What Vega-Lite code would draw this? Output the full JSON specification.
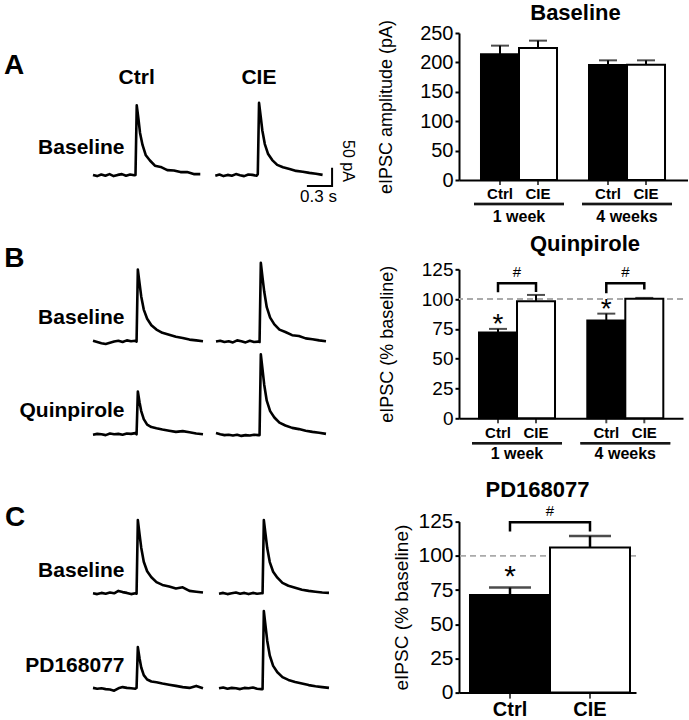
{
"$schema":"https://vega.github.io/schema/vega-lite/v6.json",
"padding":{"left":3,"top":2,"right":0,"bottom":0},
"background":"white",
"columns":2,
"align":"none",
"bounds":"flush",
"spacing":{"row":79.3,"column":100},
"resolve":{"scale":{"x":"independent","y":"independent","xOffset":"independent","yOffset":"independent","fill":"independent"}},
"config":{"font":"Liberation Sans","view":{"stroke":null},
 "axis":{"grid":false,"labelColor":"black","titleColor":"black","domainColor":"black","tickColor":"black","labelFont":"Liberation Sans","titleFont":"Liberation Sans","titleFontWeight":"normal"},
 "title":{"font":"Liberation Sans","color":"black","fontWeight":"bold"},
 "text":{"font":"Liberation Sans","color":"black"}},
"concat":[
{
 "width":265.3,"height":156.4,
 "data":{"values":[
{"c":"Ctrl","r":"Baseline","t":0,"i":1},{"c":"Ctrl","r":"Baseline","t":0.05,"i":-2},{"c":"Ctrl","r":"Baseline","t":0.1,"i":2},{"c":"Ctrl","r":"Baseline","t":0.15,"i":-1},{"c":"Ctrl","r":"Baseline","t":0.2,"i":3},{"c":"Ctrl","r":"Baseline","t":0.25,"i":-2},{"c":"Ctrl","r":"Baseline","t":0.3,"i":1},{"c":"Ctrl","r":"Baseline","t":0.35,"i":3},{"c":"Ctrl","r":"Baseline","t":0.4,"i":-1},{"c":"Ctrl","r":"Baseline","t":0.45,"i":2},{"c":"Ctrl","r":"Baseline","t":0.5,"i":0},{"c":"Ctrl","r":"Baseline","t":0.515,"i":1},{"c":"Ctrl","r":"Baseline","t":0.53,"i":175},{"c":"Ctrl","r":"Baseline","t":0.55,"i":142},{"c":"Ctrl","r":"Baseline","t":0.57,"i":106},{"c":"Ctrl","r":"Baseline","t":0.6,"i":76},{"c":"Ctrl","r":"Baseline","t":0.64,"i":50},{"c":"Ctrl","r":"Baseline","t":0.69,"i":37},{"c":"Ctrl","r":"Baseline","t":0.75,"i":24},{"c":"Ctrl","r":"Baseline","t":0.82,"i":21},{"c":"Ctrl","r":"Baseline","t":0.9,"i":13},{"c":"Ctrl","r":"Baseline","t":0.98,"i":12},{"c":"Ctrl","r":"Baseline","t":1.06,"i":8},{"c":"Ctrl","r":"Baseline","t":1.14,"i":8},{"c":"Ctrl","r":"Baseline","t":1.22,"i":3},{"c":"Ctrl","r":"Baseline","t":1.3,"i":3},
{"c":"CIE","r":"Baseline","t":0,"i":-1},{"c":"CIE","r":"Baseline","t":0.05,"i":2},{"c":"CIE","r":"Baseline","t":0.1,"i":-2},{"c":"CIE","r":"Baseline","t":0.15,"i":1},{"c":"CIE","r":"Baseline","t":0.2,"i":-1},{"c":"CIE","r":"Baseline","t":0.25,"i":3},{"c":"CIE","r":"Baseline","t":0.3,"i":0},{"c":"CIE","r":"Baseline","t":0.35,"i":-2},{"c":"CIE","r":"Baseline","t":0.4,"i":2},{"c":"CIE","r":"Baseline","t":0.45,"i":1},{"c":"CIE","r":"Baseline","t":0.5,"i":-1},{"c":"CIE","r":"Baseline","t":0.515,"i":3},{"c":"CIE","r":"Baseline","t":0.53,"i":181},{"c":"CIE","r":"Baseline","t":0.55,"i":147},{"c":"CIE","r":"Baseline","t":0.57,"i":112},{"c":"CIE","r":"Baseline","t":0.6,"i":78},{"c":"CIE","r":"Baseline","t":0.64,"i":53},{"c":"CIE","r":"Baseline","t":0.69,"i":38},{"c":"CIE","r":"Baseline","t":0.75,"i":26},{"c":"CIE","r":"Baseline","t":0.82,"i":20},{"c":"CIE","r":"Baseline","t":0.9,"i":16},{"c":"CIE","r":"Baseline","t":0.98,"i":11},{"c":"CIE","r":"Baseline","t":1.06,"i":9},{"c":"CIE","r":"Baseline","t":1.14,"i":6},{"c":"CIE","r":"Baseline","t":1.22,"i":4},{"c":"CIE","r":"Baseline","t":1.3,"i":1}
 ]},
 "layer":[
  {"mark":{"type":"line","color":"black","strokeWidth":2.6,"strokeJoin":"round"},
   "encoding":{
    "x":{"field":"c","type":"nominal","scale":{"domain":["Ctrl","CIE"],"paddingInner":0.1227,"paddingOuter":0.146,"align":0},"axis":{"orient":"top","title":null,"domain":false,"ticks":false,"tickSize":0,"labelAngle":0,"labelFontSize":21,"labelFontWeight":"bold","labelPadding":-50.3,"labelBaseline":"alphabetic","labelOffset":-10}},
    "xOffset":{"field":"t","type":"quantitative","scale":{"domain":[0,1.3],"nice":false,"zero":false}},
    "y":{"field":"r","type":"nominal","scale":{"domain":["Baseline"],"paddingInner":0,"paddingOuter":0},"axis":{"title":"A","titleAngle":0,"titleX":-89.5,"titleY":18,"titleAlign":"left","titleBaseline":"top","titleFontSize":28,"titleFontWeight":"bold","domain":false,"ticks":false,"tickSize":0,"labelFontSize":21,"labelFontWeight":"bold","labelPadding":-31,"labelOffset":37}},
    "yOffset":{"field":"i","type":"quantitative","scale":{"domain":[-35.25,355.75],"reverse":true,"nice":false,"zero":false}},
    "detail":[{"field":"c"},{"field":"r"}],
    "order":{"field":"t","type":"quantitative"}}},
  {"data":{"values":[{"c":"CIE","r":"Baseline","t":1.11,"i":-27,"k":0},{"c":"CIE","r":"Baseline","t":1.415,"i":-27,"k":1},{"c":"CIE","r":"Baseline","t":1.415,"i":19,"k":2}]},
   "mark":{"type":"line","color":"black","strokeWidth":2},
   "encoding":{
    "x":{"field":"c","type":"nominal","scale":{"domain":["Ctrl","CIE"],"paddingInner":0.1227,"paddingOuter":0.146,"align":0}},
    "xOffset":{"field":"t","type":"quantitative","scale":{"domain":[0,1.3],"nice":false,"zero":false}},
    "y":{"field":"r","type":"nominal","scale":{"domain":["Baseline"],"paddingInner":0,"paddingOuter":0}},
    "yOffset":{"field":"i","type":"quantitative","scale":{"domain":[-35.25,355.75],"reverse":true,"nice":false,"zero":false}},
    "order":{"field":"k","type":"quantitative"}}},
  {"data":{"values":[{"label":"0.3 s"}]},
   "mark":{"type":"text","fontSize":17,"align":"center","baseline":"middle"},
   "encoding":{
    "x":{"datum":"CIE","type":"nominal","scale":{"domain":["Ctrl","CIE"],"paddingInner":0.1227,"paddingOuter":0.146,"align":0}},
    "xOffset":{"datum":1.25,"type":"quantitative","scale":{"domain":[0,1.3],"nice":false,"zero":false}},
    "y":{"datum":"Baseline","type":"nominal","scale":{"domain":["Baseline"],"paddingInner":0,"paddingOuter":0}},
    "yOffset":{"datum":-54,"type":"quantitative","scale":{"domain":[-35.25,355.75],"reverse":true,"nice":false,"zero":false}},
    "text":{"field":"label"}}},
  {"data":{"values":[{"label":"50 pA"}]},
   "mark":{"type":"text","fontSize":16,"align":"center","baseline":"middle","angle":90},
   "encoding":{
    "x":{"datum":"CIE","type":"nominal","scale":{"domain":["Ctrl","CIE"],"paddingInner":0.1227,"paddingOuter":0.146,"align":0}},
    "xOffset":{"datum":1.606,"type":"quantitative","scale":{"domain":[0,1.3],"nice":false,"zero":false}},
    "y":{"datum":"Baseline","type":"nominal","scale":{"domain":["Baseline"],"paddingInner":0,"paddingOuter":0}},
    "yOffset":{"datum":36,"type":"quantitative","scale":{"domain":[-35.25,355.75],"reverse":true,"nice":false,"zero":false}},
    "text":{"field":"label"}}}
 ]
},
{
 "width":229,"height":147,
 "title":{"text":"Baseline","fontSize":22,"fontWeight":"bold","frame":"group","dx":2,"offset":-6},
 "data":{"values":[
  {"week":"1 week","group":"Ctrl","mean":214,"hi":228.5},
  {"week":"1 week","group":"CIE","mean":224.5,"hi":237},
  {"week":"4 weeks","group":"Ctrl","mean":195.5,"hi":203.5},
  {"week":"4 weeks","group":"CIE","mean":196,"hi":203.5}]},
 "layer":[
  {"mark":{"type":"tick","orient":"vertical","size":10,"thickness":2,"color":"black"},
   "encoding":{"x":{"field":"week","type":"nominal","scale":{"domain":["1 week","4 weeks"],"paddingInner":0.1667,"paddingOuter":0.1435,"align":0.484},"axis":{"title":null,"ticks":false,"labels":false,"domainWidth":2}},
    "xOffset":{"field":"group","type":"nominal","scale":{"domain":["Ctrl","CIE"],"paddingInner":0,"paddingOuter":0.184}},
    "y":{"datum":0,"type":"quantitative","scale":{"domain":[0,250],"nice":false},"axis":{"values":[0,50,100,150,200,250],"tickCount":8,"labelOverlap":false,"title":"eIPSC amplitude (pA)","titleFontSize":18,"titlePadding":24,"labelFontSize":20,"labelPadding":2,"tickSize":4,"tickWidth":2,"domainWidth":2}}}},
  {"mark":{"type":"bar","stroke":"black","strokeWidth":2},
   "encoding":{"x":{"field":"week","type":"nominal","scale":{"domain":["1 week","4 weeks"],"paddingInner":0.1667,"paddingOuter":0.1435,"align":0.484},"axis":{"title":null,"ticks":false,"labels":false,"domainWidth":2}},
    "xOffset":{"field":"group","type":"nominal","scale":{"domain":["Ctrl","CIE"],"paddingInner":0,"paddingOuter":0.184}},
    "y":{"field":"mean","type":"quantitative","scale":{"domain":[0,250],"nice":false},"axis":{"values":[0,50,100,150,200,250],"tickCount":8,"labelOverlap":false,"title":"eIPSC amplitude (pA)","titleFontSize":18,"titlePadding":24,"labelFontSize":20,"labelPadding":2,"tickSize":4,"tickWidth":2,"domainWidth":2}},
    "fill":{"field":"group","type":"nominal","scale":{"domain":["Ctrl","CIE"],"range":["black","white"]},"legend":null}}},
  {"mark":{"type":"rule","color":"black","strokeWidth":2},
   "encoding":{"x":{"field":"week","type":"nominal","scale":{"domain":["1 week","4 weeks"],"paddingInner":0.1667,"paddingOuter":0.1435,"align":0.484}},
    "xOffset":{"field":"group","type":"nominal","scale":{"domain":["Ctrl","CIE"],"paddingInner":0,"paddingOuter":0.184}},
    "y":{"field":"mean","type":"quantitative","scale":{"domain":[0,250],"nice":false}},"y2":{"field":"hi"}}},
  {"mark":{"type":"tick","orient":"horizontal","size":18,"thickness":2,"color":"black"},
   "encoding":{"x":{"field":"week","type":"nominal","scale":{"domain":["1 week","4 weeks"],"paddingInner":0.1667,"paddingOuter":0.1435,"align":0.484}},
    "xOffset":{"field":"group","type":"nominal","scale":{"domain":["Ctrl","CIE"],"paddingInner":0,"paddingOuter":0.184}},
    "y":{"field":"hi","type":"quantitative","scale":{"domain":[0,250],"nice":false}}}},
  {"mark":{"type":"text","fontSize":15,"fontWeight":"bold","baseline":"middle","dy":14},
   "encoding":{"x":{"field":"week","type":"nominal","scale":{"domain":["1 week","4 weeks"],"paddingInner":0.1667,"paddingOuter":0.1435,"align":0.484}},
    "xOffset":{"field":"group","type":"nominal","scale":{"domain":["Ctrl","CIE"],"paddingInner":0,"paddingOuter":0.184}},
    "y":{"datum":0,"type":"quantitative","scale":{"domain":[0,250],"nice":false}},
    "text":{"field":"group"}}},
  {"mark":{"type":"tick","orient":"horizontal","size":90,"thickness":2.5,"color":"black","yOffset":24},
   "encoding":{"x":{"field":"week","type":"nominal","scale":{"domain":["1 week","4 weeks"],"paddingInner":0.1667,"paddingOuter":0.1435,"align":0.484}},
    "y":{"datum":0,"type":"quantitative","scale":{"domain":[0,250],"nice":false}}}},
  {"transform":[{"filter":"datum.group == 'Ctrl'"}],
   "mark":{"type":"text","fontSize":16,"fontWeight":"bold","baseline":"middle","dy":37},
   "encoding":{"x":{"field":"week","type":"nominal","scale":{"domain":["1 week","4 weeks"],"paddingInner":0.1667,"paddingOuter":0.1435,"align":0.484}},
    "y":{"datum":0,"type":"quantitative","scale":{"domain":[0,250],"nice":false}},
    "text":{"field":"week"}}}
 ]
},
{
 "width":265.3,"height":173,
 "data":{"values":[
{"c":"Ctrl","r":"Baseline","t":0,"i":2},{"c":"Ctrl","r":"Baseline","t":0.05,"i":-1},{"c":"Ctrl","r":"Baseline","t":0.1,"i":-4},{"c":"Ctrl","r":"Baseline","t":0.15,"i":-6},{"c":"Ctrl","r":"Baseline","t":0.2,"i":-3},{"c":"Ctrl","r":"Baseline","t":0.25,"i":0},{"c":"Ctrl","r":"Baseline","t":0.3,"i":2},{"c":"Ctrl","r":"Baseline","t":0.35,"i":-1},{"c":"Ctrl","r":"Baseline","t":0.4,"i":3},{"c":"Ctrl","r":"Baseline","t":0.45,"i":1},{"c":"Ctrl","r":"Baseline","t":0.5,"i":2},{"c":"Ctrl","r":"Baseline","t":0.515,"i":0},{"c":"Ctrl","r":"Baseline","t":0.53,"i":180},{"c":"Ctrl","r":"Baseline","t":0.55,"i":146},{"c":"Ctrl","r":"Baseline","t":0.57,"i":113},{"c":"Ctrl","r":"Baseline","t":0.6,"i":80},{"c":"Ctrl","r":"Baseline","t":0.64,"i":57},{"c":"Ctrl","r":"Baseline","t":0.69,"i":41},{"c":"Ctrl","r":"Baseline","t":0.75,"i":30},{"c":"Ctrl","r":"Baseline","t":0.82,"i":22},{"c":"Ctrl","r":"Baseline","t":0.9,"i":17},{"c":"Ctrl","r":"Baseline","t":0.98,"i":12},{"c":"Ctrl","r":"Baseline","t":1.06,"i":9},{"c":"Ctrl","r":"Baseline","t":1.14,"i":5},{"c":"Ctrl","r":"Baseline","t":1.22,"i":3},{"c":"Ctrl","r":"Baseline","t":1.3,"i":1},
{"c":"CIE","r":"Baseline","t":0,"i":0},{"c":"CIE","r":"Baseline","t":0.05,"i":2},{"c":"CIE","r":"Baseline","t":0.1,"i":-1},{"c":"CIE","r":"Baseline","t":0.15,"i":1},{"c":"CIE","r":"Baseline","t":0.2,"i":-2},{"c":"CIE","r":"Baseline","t":0.25,"i":3},{"c":"CIE","r":"Baseline","t":0.3,"i":1},{"c":"CIE","r":"Baseline","t":0.35,"i":-2},{"c":"CIE","r":"Baseline","t":0.4,"i":2},{"c":"CIE","r":"Baseline","t":0.45,"i":-1},{"c":"CIE","r":"Baseline","t":0.5,"i":0},{"c":"CIE","r":"Baseline","t":0.515,"i":-1},{"c":"CIE","r":"Baseline","t":0.53,"i":197},{"c":"CIE","r":"Baseline","t":0.55,"i":160},{"c":"CIE","r":"Baseline","t":0.57,"i":125},{"c":"CIE","r":"Baseline","t":0.6,"i":86},{"c":"CIE","r":"Baseline","t":0.64,"i":60},{"c":"CIE","r":"Baseline","t":0.69,"i":43},{"c":"CIE","r":"Baseline","t":0.75,"i":30},{"c":"CIE","r":"Baseline","t":0.82,"i":24},{"c":"CIE","r":"Baseline","t":0.9,"i":16},{"c":"CIE","r":"Baseline","t":0.98,"i":14},{"c":"CIE","r":"Baseline","t":1.06,"i":8},{"c":"CIE","r":"Baseline","t":1.14,"i":6},{"c":"CIE","r":"Baseline","t":1.22,"i":3},{"c":"CIE","r":"Baseline","t":1.3,"i":1},
{"c":"Ctrl","r":"Quinpirole","t":0,"i":-1},{"c":"Ctrl","r":"Quinpirole","t":0.05,"i":1},{"c":"Ctrl","r":"Quinpirole","t":0.1,"i":0},{"c":"Ctrl","r":"Quinpirole","t":0.15,"i":-2},{"c":"Ctrl","r":"Quinpirole","t":0.2,"i":2},{"c":"Ctrl","r":"Quinpirole","t":0.25,"i":0},{"c":"Ctrl","r":"Quinpirole","t":0.3,"i":1},{"c":"Ctrl","r":"Quinpirole","t":0.35,"i":-1},{"c":"Ctrl","r":"Quinpirole","t":0.4,"i":2},{"c":"Ctrl","r":"Quinpirole","t":0.45,"i":1},{"c":"Ctrl","r":"Quinpirole","t":0.5,"i":3},{"c":"Ctrl","r":"Quinpirole","t":0.515,"i":0},{"c":"Ctrl","r":"Quinpirole","t":0.53,"i":107},{"c":"Ctrl","r":"Quinpirole","t":0.55,"i":80},{"c":"Ctrl","r":"Quinpirole","t":0.57,"i":58},{"c":"Ctrl","r":"Quinpirole","t":0.6,"i":38},{"c":"Ctrl","r":"Quinpirole","t":0.64,"i":24},{"c":"Ctrl","r":"Quinpirole","t":0.69,"i":18},{"c":"Ctrl","r":"Quinpirole","t":0.75,"i":15},{"c":"Ctrl","r":"Quinpirole","t":0.82,"i":12},{"c":"Ctrl","r":"Quinpirole","t":0.9,"i":9},{"c":"Ctrl","r":"Quinpirole","t":0.98,"i":6},{"c":"Ctrl","r":"Quinpirole","t":1.06,"i":8},{"c":"Ctrl","r":"Quinpirole","t":1.14,"i":5},{"c":"Ctrl","r":"Quinpirole","t":1.22,"i":2},{"c":"Ctrl","r":"Quinpirole","t":1.3,"i":0},
{"c":"CIE","r":"Quinpirole","t":0,"i":3},{"c":"CIE","r":"Quinpirole","t":0.05,"i":0},{"c":"CIE","r":"Quinpirole","t":0.1,"i":-2},{"c":"CIE","r":"Quinpirole","t":0.15,"i":-1},{"c":"CIE","r":"Quinpirole","t":0.2,"i":-3},{"c":"CIE","r":"Quinpirole","t":0.25,"i":-1},{"c":"CIE","r":"Quinpirole","t":0.3,"i":-4},{"c":"CIE","r":"Quinpirole","t":0.35,"i":-2},{"c":"CIE","r":"Quinpirole","t":0.4,"i":-3},{"c":"CIE","r":"Quinpirole","t":0.45,"i":-1},{"c":"CIE","r":"Quinpirole","t":0.5,"i":-2},{"c":"CIE","r":"Quinpirole","t":0.515,"i":-2},{"c":"CIE","r":"Quinpirole","t":0.53,"i":200},{"c":"CIE","r":"Quinpirole","t":0.55,"i":162},{"c":"CIE","r":"Quinpirole","t":0.57,"i":124},{"c":"CIE","r":"Quinpirole","t":0.6,"i":84},{"c":"CIE","r":"Quinpirole","t":0.64,"i":58},{"c":"CIE","r":"Quinpirole","t":0.69,"i":42},{"c":"CIE","r":"Quinpirole","t":0.75,"i":29},{"c":"CIE","r":"Quinpirole","t":0.82,"i":22},{"c":"CIE","r":"Quinpirole","t":0.9,"i":16},{"c":"CIE","r":"Quinpirole","t":0.98,"i":13},{"c":"CIE","r":"Quinpirole","t":1.06,"i":9},{"c":"CIE","r":"Quinpirole","t":1.14,"i":6},{"c":"CIE","r":"Quinpirole","t":1.22,"i":4},{"c":"CIE","r":"Quinpirole","t":1.3,"i":1}
 ]},
 "mark":{"type":"line","color":"black","strokeWidth":2.6,"strokeJoin":"round"},
 "encoding":{
  "x":{"field":"c","type":"nominal","scale":{"domain":["Ctrl","CIE"],"paddingInner":0.1057,"paddingOuter":0.1314,"align":0},"axis":null},
  "xOffset":{"field":"t","type":"quantitative","scale":{"domain":[0,1.3],"nice":false,"zero":false}},
  "y":{"field":"r","type":"nominal","scale":{"domain":["Baseline","Quinpirole"],"paddingInner":0.134,"paddingOuter":0},"axis":{"title":"B","titleAngle":0,"titleX":-89.2,"titleY":-25,"titleAlign":"left","titleBaseline":"top","titleFontSize":28,"titleFontWeight":"bold","domain":false,"ticks":false,"tickSize":0,"labelFontSize":21,"labelFontWeight":"bold","labelPadding":-31,"labelOffset":9}},
  "yOffset":{"field":"i","type":"quantitative","scale":{"domain":[-20,180.7],"reverse":true,"nice":false,"zero":false}},
  "detail":[{"field":"c"},{"field":"r"}],
  "order":{"field":"t","type":"quantitative"}}
},
{
 "width":224,"height":149,
 "title":{"text":"Quinpirole","fontSize":22,"fontWeight":"bold","frame":"group","dx":14,"offset":4},
 "data":{"values":[
  {"week":"1 week","group":"Ctrl","mean":72,"hi":75,"star":"*"},
  {"week":"1 week","group":"CIE","mean":98.2,"hi":103.5,"star":""},
  {"week":"4 weeks","group":"Ctrl","mean":82,"hi":87.8,"star":"*"},
  {"week":"4 weeks","group":"CIE","mean":100.2,"hi":101,"star":""}]},
 "layer":[
  {"mark":{"type":"rule","color":"#aaaaaa","strokeWidth":1.5,"strokeDash":[6,4]},
   "encoding":{"y":{"datum":100,"type":"quantitative","scale":{"domain":[0,125],"nice":false},"axis":{"values":[0,25,50,75,100,125],"tickCount":8,"labelOverlap":false,"title":"eIPSC (% baseline)","titleFontSize":18,"titlePadding":25,"labelFontSize":19,"labelPadding":2,"tickSize":4,"tickWidth":2,"domainWidth":2}}}},
  {"mark":{"type":"tick","orient":"vertical","size":10,"thickness":2,"color":"black"},
   "encoding":{"x":{"field":"week","type":"nominal","scale":{"domain":["1 week","4 weeks"],"paddingInner":0.169,"paddingOuter":0.1187,"align":0.506},"axis":{"title":null,"ticks":false,"labels":false,"domainWidth":2}},
    "xOffset":{"field":"group","type":"nominal","scale":{"domain":["Ctrl","CIE"],"paddingInner":0,"paddingOuter":0.184}},
    "y":{"datum":0,"type":"quantitative","scale":{"domain":[0,125],"nice":false},"axis":{"values":[0,25,50,75,100,125],"tickCount":8,"labelOverlap":false,"title":"eIPSC (% baseline)","titleFontSize":18,"titlePadding":25,"labelFontSize":19,"labelPadding":2,"tickSize":4,"tickWidth":2,"domainWidth":2}}}},
  {"mark":{"type":"bar","stroke":"black","strokeWidth":2},
   "encoding":{"x":{"field":"week","type":"nominal","scale":{"domain":["1 week","4 weeks"],"paddingInner":0.169,"paddingOuter":0.1187,"align":0.506},"axis":{"title":null,"ticks":false,"labels":false,"domainWidth":2}},
    "xOffset":{"field":"group","type":"nominal","scale":{"domain":["Ctrl","CIE"],"paddingInner":0,"paddingOuter":0.184}},
    "y":{"field":"mean","type":"quantitative","scale":{"domain":[0,125],"nice":false},"axis":{"values":[0,25,50,75,100,125],"tickCount":8,"labelOverlap":false,"title":"eIPSC (% baseline)","titleFontSize":18,"titlePadding":25,"labelFontSize":19,"labelPadding":2,"tickSize":4,"tickWidth":2,"domainWidth":2}},
    "fill":{"field":"group","type":"nominal","scale":{"domain":["Ctrl","CIE"],"range":["black","white"]},"legend":null}}},
  {"mark":{"type":"rule","color":"black","strokeWidth":2},
   "encoding":{"x":{"field":"week","type":"nominal","scale":{"domain":["1 week","4 weeks"],"paddingInner":0.169,"paddingOuter":0.1187,"align":0.506}},
    "xOffset":{"field":"group","type":"nominal","scale":{"domain":["Ctrl","CIE"],"paddingInner":0,"paddingOuter":0.184}},
    "y":{"field":"mean","type":"quantitative","scale":{"domain":[0,125],"nice":false}},"y2":{"field":"hi"}}},
  {"mark":{"type":"tick","orient":"horizontal","size":18,"thickness":2,"color":"black"},
   "encoding":{"x":{"field":"week","type":"nominal","scale":{"domain":["1 week","4 weeks"],"paddingInner":0.169,"paddingOuter":0.1187,"align":0.506}},
    "xOffset":{"field":"group","type":"nominal","scale":{"domain":["Ctrl","CIE"],"paddingInner":0,"paddingOuter":0.184}},
    "y":{"field":"hi","type":"quantitative","scale":{"domain":[0,125],"nice":false}}}},
  {"transform":[{"filter":"datum.star == '*'"}],
   "mark":{"type":"text","fontSize":28,"baseline":"alphabetic","dy":4},
   "encoding":{"x":{"field":"week","type":"nominal","scale":{"domain":["1 week","4 weeks"],"paddingInner":0.169,"paddingOuter":0.1187,"align":0.506}},
    "xOffset":{"field":"group","type":"nominal","scale":{"domain":["Ctrl","CIE"],"paddingInner":0,"paddingOuter":0.184}},
    "y":{"field":"hi","type":"quantitative","scale":{"domain":[0,125],"nice":false}},
    "text":{"field":"star"}}},
  {"mark":{"type":"text","fontSize":15,"fontWeight":"bold","baseline":"middle","dy":15},
   "encoding":{"x":{"field":"week","type":"nominal","scale":{"domain":["1 week","4 weeks"],"paddingInner":0.169,"paddingOuter":0.1187,"align":0.506}},
    "xOffset":{"field":"group","type":"nominal","scale":{"domain":["Ctrl","CIE"],"paddingInner":0,"paddingOuter":0.184}},
    "y":{"datum":0,"type":"quantitative","scale":{"domain":[0,125],"nice":false}},
    "text":{"field":"group"}}},
  {"mark":{"type":"tick","orient":"horizontal","size":90,"thickness":2.5,"color":"black","yOffset":25},
   "encoding":{"x":{"field":"week","type":"nominal","scale":{"domain":["1 week","4 weeks"],"paddingInner":0.169,"paddingOuter":0.1187,"align":0.506}},
    "y":{"datum":0,"type":"quantitative","scale":{"domain":[0,125],"nice":false}}}},
  {"transform":[{"filter":"datum.group == 'Ctrl'"}],
   "mark":{"type":"text","fontSize":16,"fontWeight":"bold","baseline":"middle","dy":36},
   "encoding":{"x":{"field":"week","type":"nominal","scale":{"domain":["1 week","4 weeks"],"paddingInner":0.169,"paddingOuter":0.1187,"align":0.506}},
    "y":{"datum":0,"type":"quantitative","scale":{"domain":[0,125],"nice":false}},
    "text":{"field":"week"}}},
  {"data":{"values":[
    {"week":"1 week","group":"Ctrl","lvl":105.7,"k":0},{"week":"1 week","group":"Ctrl","lvl":113.3,"k":1},{"week":"1 week","group":"CIE","lvl":113.3,"k":2},{"week":"1 week","group":"CIE","lvl":106,"k":3},
    {"week":"4 weeks","group":"Ctrl","lvl":104.9,"k":0},{"week":"4 weeks","group":"Ctrl","lvl":113.3,"k":1},{"week":"4 weeks","group":"CIE","lvl":113.3,"k":2},{"week":"4 weeks","group":"CIE","lvl":108,"k":3}]},
   "layer":[
    {"mark":{"type":"line","color":"black","strokeWidth":2.5},
     "encoding":{"x":{"field":"week","type":"nominal","scale":{"domain":["1 week","4 weeks"],"paddingInner":0.169,"paddingOuter":0.1187,"align":0.506}},
      "xOffset":{"field":"group","type":"nominal","scale":{"domain":["Ctrl","CIE"],"paddingInner":0,"paddingOuter":0.184}},
      "y":{"field":"lvl","type":"quantitative","scale":{"domain":[0,125],"nice":false}},
      "detail":{"field":"week"},
      "order":{"field":"k","type":"quantitative"}}},
    {"transform":[{"filter":"datum.k == 1"}],
     "mark":{"type":"text","fontSize":15,"baseline":"middle","dy":-11,"text":"#"},
     "encoding":{"x":{"field":"week","type":"nominal","scale":{"domain":["1 week","4 weeks"],"paddingInner":0.169,"paddingOuter":0.1187,"align":0.506}},
      "y":{"field":"lvl","type":"quantitative","scale":{"domain":[0,125],"nice":false}}}}
   ]}
 ]
},
{
 "width":265.3,"height":174.7,
 "data":{"values":[
{"c":"Ctrl","r":"Baseline","t":0,"i":0},{"c":"Ctrl","r":"Baseline","t":0.05,"i":-2},{"c":"Ctrl","r":"Baseline","t":0.1,"i":1},{"c":"Ctrl","r":"Baseline","t":0.15,"i":-1},{"c":"Ctrl","r":"Baseline","t":0.2,"i":2},{"c":"Ctrl","r":"Baseline","t":0.25,"i":0},{"c":"Ctrl","r":"Baseline","t":0.3,"i":6},{"c":"Ctrl","r":"Baseline","t":0.35,"i":3},{"c":"Ctrl","r":"Baseline","t":0.4,"i":1},{"c":"Ctrl","r":"Baseline","t":0.45,"i":-2},{"c":"Ctrl","r":"Baseline","t":0.5,"i":0},{"c":"Ctrl","r":"Baseline","t":0.515,"i":-1},{"c":"Ctrl","r":"Baseline","t":0.53,"i":183},{"c":"Ctrl","r":"Baseline","t":0.55,"i":148},{"c":"Ctrl","r":"Baseline","t":0.57,"i":114},{"c":"Ctrl","r":"Baseline","t":0.6,"i":79},{"c":"Ctrl","r":"Baseline","t":0.64,"i":55},{"c":"Ctrl","r":"Baseline","t":0.69,"i":40},{"c":"Ctrl","r":"Baseline","t":0.75,"i":28},{"c":"Ctrl","r":"Baseline","t":0.82,"i":21},{"c":"Ctrl","r":"Baseline","t":0.9,"i":17},{"c":"Ctrl","r":"Baseline","t":0.98,"i":12},{"c":"Ctrl","r":"Baseline","t":1.06,"i":15},{"c":"Ctrl","r":"Baseline","t":1.14,"i":6},{"c":"Ctrl","r":"Baseline","t":1.22,"i":4},{"c":"Ctrl","r":"Baseline","t":1.3,"i":2},
{"c":"CIE","r":"Baseline","t":0,"i":-1},{"c":"CIE","r":"Baseline","t":0.05,"i":1},{"c":"CIE","r":"Baseline","t":0.1,"i":-2},{"c":"CIE","r":"Baseline","t":0.15,"i":0},{"c":"CIE","r":"Baseline","t":0.2,"i":2},{"c":"CIE","r":"Baseline","t":0.25,"i":-1},{"c":"CIE","r":"Baseline","t":0.3,"i":1},{"c":"CIE","r":"Baseline","t":0.35,"i":-2},{"c":"CIE","r":"Baseline","t":0.4,"i":1},{"c":"CIE","r":"Baseline","t":0.45,"i":-1},{"c":"CIE","r":"Baseline","t":0.5,"i":0},{"c":"CIE","r":"Baseline","t":0.515,"i":0},{"c":"CIE","r":"Baseline","t":0.53,"i":183},{"c":"CIE","r":"Baseline","t":0.55,"i":148},{"c":"CIE","r":"Baseline","t":0.57,"i":113},{"c":"CIE","r":"Baseline","t":0.6,"i":78},{"c":"CIE","r":"Baseline","t":0.64,"i":54},{"c":"CIE","r":"Baseline","t":0.69,"i":39},{"c":"CIE","r":"Baseline","t":0.75,"i":26},{"c":"CIE","r":"Baseline","t":0.82,"i":19},{"c":"CIE","r":"Baseline","t":0.9,"i":14},{"c":"CIE","r":"Baseline","t":0.98,"i":9},{"c":"CIE","r":"Baseline","t":1.06,"i":6},{"c":"CIE","r":"Baseline","t":1.14,"i":4},{"c":"CIE","r":"Baseline","t":1.22,"i":2},{"c":"CIE","r":"Baseline","t":1.3,"i":1},
{"c":"Ctrl","r":"PD168077","t":0,"i":1},{"c":"Ctrl","r":"PD168077","t":0.05,"i":-1},{"c":"Ctrl","r":"PD168077","t":0.1,"i":0},{"c":"Ctrl","r":"PD168077","t":0.15,"i":-2},{"c":"Ctrl","r":"PD168077","t":0.2,"i":-3},{"c":"Ctrl","r":"PD168077","t":0.25,"i":-6},{"c":"Ctrl","r":"PD168077","t":0.3,"i":0},{"c":"Ctrl","r":"PD168077","t":0.35,"i":3},{"c":"Ctrl","r":"PD168077","t":0.4,"i":1},{"c":"Ctrl","r":"PD168077","t":0.45,"i":0},{"c":"Ctrl","r":"PD168077","t":0.5,"i":-1},{"c":"Ctrl","r":"PD168077","t":0.515,"i":1},{"c":"Ctrl","r":"PD168077","t":0.53,"i":103},{"c":"Ctrl","r":"PD168077","t":0.55,"i":75},{"c":"Ctrl","r":"PD168077","t":0.57,"i":52},{"c":"Ctrl","r":"PD168077","t":0.6,"i":33},{"c":"Ctrl","r":"PD168077","t":0.64,"i":22},{"c":"Ctrl","r":"PD168077","t":0.69,"i":17},{"c":"Ctrl","r":"PD168077","t":0.75,"i":15},{"c":"Ctrl","r":"PD168077","t":0.82,"i":12},{"c":"Ctrl","r":"PD168077","t":0.9,"i":9},{"c":"Ctrl","r":"PD168077","t":0.98,"i":6},{"c":"Ctrl","r":"PD168077","t":1.06,"i":3},{"c":"Ctrl","r":"PD168077","t":1.14,"i":1},{"c":"Ctrl","r":"PD168077","t":1.22,"i":6},{"c":"Ctrl","r":"PD168077","t":1.3,"i":0},
{"c":"CIE","r":"PD168077","t":0,"i":0},{"c":"CIE","r":"PD168077","t":0.05,"i":2},{"c":"CIE","r":"PD168077","t":0.1,"i":-1},{"c":"CIE","r":"PD168077","t":0.15,"i":1},{"c":"CIE","r":"PD168077","t":0.2,"i":0},{"c":"CIE","r":"PD168077","t":0.25,"i":-2},{"c":"CIE","r":"PD168077","t":0.3,"i":1},{"c":"CIE","r":"PD168077","t":0.35,"i":0},{"c":"CIE","r":"PD168077","t":0.4,"i":2},{"c":"CIE","r":"PD168077","t":0.45,"i":-1},{"c":"CIE","r":"PD168077","t":0.5,"i":-2},{"c":"CIE","r":"PD168077","t":0.515,"i":-2},{"c":"CIE","r":"PD168077","t":0.53,"i":193},{"c":"CIE","r":"PD168077","t":0.55,"i":156},{"c":"CIE","r":"PD168077","t":0.57,"i":119},{"c":"CIE","r":"PD168077","t":0.6,"i":82},{"c":"CIE","r":"PD168077","t":0.64,"i":56},{"c":"CIE","r":"PD168077","t":0.69,"i":40},{"c":"CIE","r":"PD168077","t":0.75,"i":28},{"c":"CIE","r":"PD168077","t":0.82,"i":21},{"c":"CIE","r":"PD168077","t":0.9,"i":16},{"c":"CIE","r":"PD168077","t":0.98,"i":12},{"c":"CIE","r":"PD168077","t":1.06,"i":8},{"c":"CIE","r":"PD168077","t":1.14,"i":5},{"c":"CIE","r":"PD168077","t":1.22,"i":3},{"c":"CIE","r":"PD168077","t":1.3,"i":1}
 ]},
 "mark":{"type":"line","color":"black","strokeWidth":2.6,"strokeJoin":"round"},
 "encoding":{
  "x":{"field":"c","type":"nominal","scale":{"domain":["Ctrl","CIE"],"paddingInner":0.127,"paddingOuter":0.1163,"align":0},"axis":null},
  "xOffset":{"field":"t","type":"quantitative","scale":{"domain":[0,1.3],"nice":false,"zero":false}},
  "y":{"field":"r","type":"nominal","scale":{"domain":["Baseline","PD168077"],"paddingInner":0.161,"paddingOuter":0},"axis":{"title":"C","titleAngle":0,"titleX":-88.5,"titleY":-18,"titleAlign":"left","titleBaseline":"top","titleFontSize":28,"titleFontWeight":"bold","domain":false,"ticks":false,"tickSize":0,"labelFontSize":21,"labelFontWeight":"bold","labelPadding":-31,"labelOffset":10}},
  "yOffset":{"field":"i","type":"quantitative","scale":{"domain":[-20,179.25],"reverse":true,"nice":false,"zero":false}},
  "detail":[{"field":"c"},{"field":"r"}],
  "order":{"field":"t","type":"quantitative"}}
},
{
 "width":177,"height":171,
 "title":{"text":"PD168077","fontSize":22,"fontWeight":"bold","frame":"group","dx":-10,"offset":2},
 "data":{"values":[
  {"set":"all","group":"Ctrl","mean":71.4,"hi":76.8,"star":"*"},
  {"set":"all","group":"CIE","mean":106,"hi":114.5,"star":""}]},
 "layer":[
  {"mark":{"type":"rule","color":"#aaaaaa","strokeWidth":1.5,"strokeDash":[6,4]},
   "encoding":{"y":{"datum":100,"type":"quantitative","scale":{"domain":[0,125],"nice":false},"axis":{"values":[0,25,50,75,100,125],"tickCount":8,"labelOverlap":false,"title":"eIPSC (% baseline)","titleFontSize":19,"titlePadding":6,"labelFontSize":21,"labelPadding":2,"tickSize":4,"tickWidth":2,"domainWidth":2}}}},
  {"mark":{"type":"tick","orient":"vertical","size":12,"thickness":2,"color":"black"},
   "encoding":{"x":{"field":"set","type":"nominal","scale":{"paddingInner":0,"paddingOuter":0.0531,"align":0.647},"axis":{"title":null,"ticks":false,"labels":false,"domainWidth":2}},
    "xOffset":{"field":"group","type":"nominal","scale":{"domain":["Ctrl","CIE"],"paddingInner":0,"paddingOuter":0}},
    "y":{"datum":0,"type":"quantitative","scale":{"domain":[0,125],"nice":false},"axis":{"values":[0,25,50,75,100,125],"tickCount":8,"labelOverlap":false,"title":"eIPSC (% baseline)","titleFontSize":19,"titlePadding":6,"labelFontSize":21,"labelPadding":2,"tickSize":4,"tickWidth":2,"domainWidth":2}}}},
  {"mark":{"type":"bar","stroke":"black","strokeWidth":2},
   "encoding":{"x":{"field":"set","type":"nominal","scale":{"paddingInner":0,"paddingOuter":0.0531,"align":0.647},"axis":{"title":null,"ticks":false,"labels":false,"domainWidth":2}},
    "xOffset":{"field":"group","type":"nominal","scale":{"domain":["Ctrl","CIE"],"paddingInner":0,"paddingOuter":0}},
    "y":{"field":"mean","type":"quantitative","scale":{"domain":[0,125],"nice":false},"axis":{"values":[0,25,50,75,100,125],"tickCount":8,"labelOverlap":false,"title":"eIPSC (% baseline)","titleFontSize":19,"titlePadding":6,"labelFontSize":21,"labelPadding":2,"tickSize":4,"tickWidth":2,"domainWidth":2}},
    "fill":{"field":"group","type":"nominal","scale":{"domain":["Ctrl","CIE"],"range":["black","white"]},"legend":null}}},
  {"mark":{"type":"rule","color":"black","strokeWidth":2.5},
   "encoding":{"x":{"field":"set","type":"nominal","scale":{"paddingInner":0,"paddingOuter":0.0531,"align":0.647}},
    "xOffset":{"field":"group","type":"nominal","scale":{"domain":["Ctrl","CIE"],"paddingInner":0,"paddingOuter":0}},
    "y":{"field":"mean","type":"quantitative","scale":{"domain":[0,125],"nice":false}},"y2":{"field":"hi"}}},
  {"mark":{"type":"tick","orient":"horizontal","size":42,"thickness":2.5,"color":"black"},
   "encoding":{"x":{"field":"set","type":"nominal","scale":{"paddingInner":0,"paddingOuter":0.0531,"align":0.647}},
    "xOffset":{"field":"group","type":"nominal","scale":{"domain":["Ctrl","CIE"],"paddingInner":0,"paddingOuter":0}},
    "y":{"field":"hi","type":"quantitative","scale":{"domain":[0,125],"nice":false}}}},
  {"transform":[{"filter":"datum.star == '*'"}],
   "mark":{"type":"text","fontSize":30,"baseline":"alphabetic","dy":-2},
   "encoding":{"x":{"field":"set","type":"nominal","scale":{"paddingInner":0,"paddingOuter":0.0531,"align":0.647}},
    "xOffset":{"field":"group","type":"nominal","scale":{"domain":["Ctrl","CIE"],"paddingInner":0,"paddingOuter":0}},
    "y":{"field":"hi","type":"quantitative","scale":{"domain":[0,125],"nice":false}},
    "text":{"field":"star"}}},
  {"mark":{"type":"text","fontSize":20,"fontWeight":"bold","baseline":"middle","dy":17},
   "encoding":{"x":{"field":"set","type":"nominal","scale":{"paddingInner":0,"paddingOuter":0.0531,"align":0.647}},
    "xOffset":{"field":"group","type":"nominal","scale":{"domain":["Ctrl","CIE"],"paddingInner":0,"paddingOuter":0}},
    "y":{"datum":0,"type":"quantitative","scale":{"domain":[0,125],"nice":false}},
    "text":{"field":"group"}}},
  {"data":{"values":[
    {"set":"all","group":"Ctrl","lvl":117.7,"k":0},{"set":"all","group":"Ctrl","lvl":124.5,"k":1},{"set":"all","group":"CIE","lvl":124.5,"k":2},{"set":"all","group":"CIE","lvl":117.7,"k":3}]},
   "layer":[
    {"mark":{"type":"line","color":"black","strokeWidth":2.5},
     "encoding":{"x":{"field":"set","type":"nominal","scale":{"paddingInner":0,"paddingOuter":0.0531,"align":0.647}},
      "xOffset":{"field":"group","type":"nominal","scale":{"domain":["Ctrl","CIE"],"paddingInner":0,"paddingOuter":0}},
      "y":{"field":"lvl","type":"quantitative","scale":{"domain":[0,125],"nice":false}},
      "order":{"field":"k","type":"quantitative"}}},
    {"transform":[{"filter":"datum.k == 1"}],
     "mark":{"type":"text","fontSize":15,"baseline":"middle","dy":-11,"text":"#"},
     "encoding":{"x":{"field":"set","type":"nominal","scale":{"paddingInner":0,"paddingOuter":0.0531,"align":0.647}},
      "y":{"field":"lvl","type":"quantitative","scale":{"domain":[0,125],"nice":false}}}}
   ]}
 ]
}
]
}
